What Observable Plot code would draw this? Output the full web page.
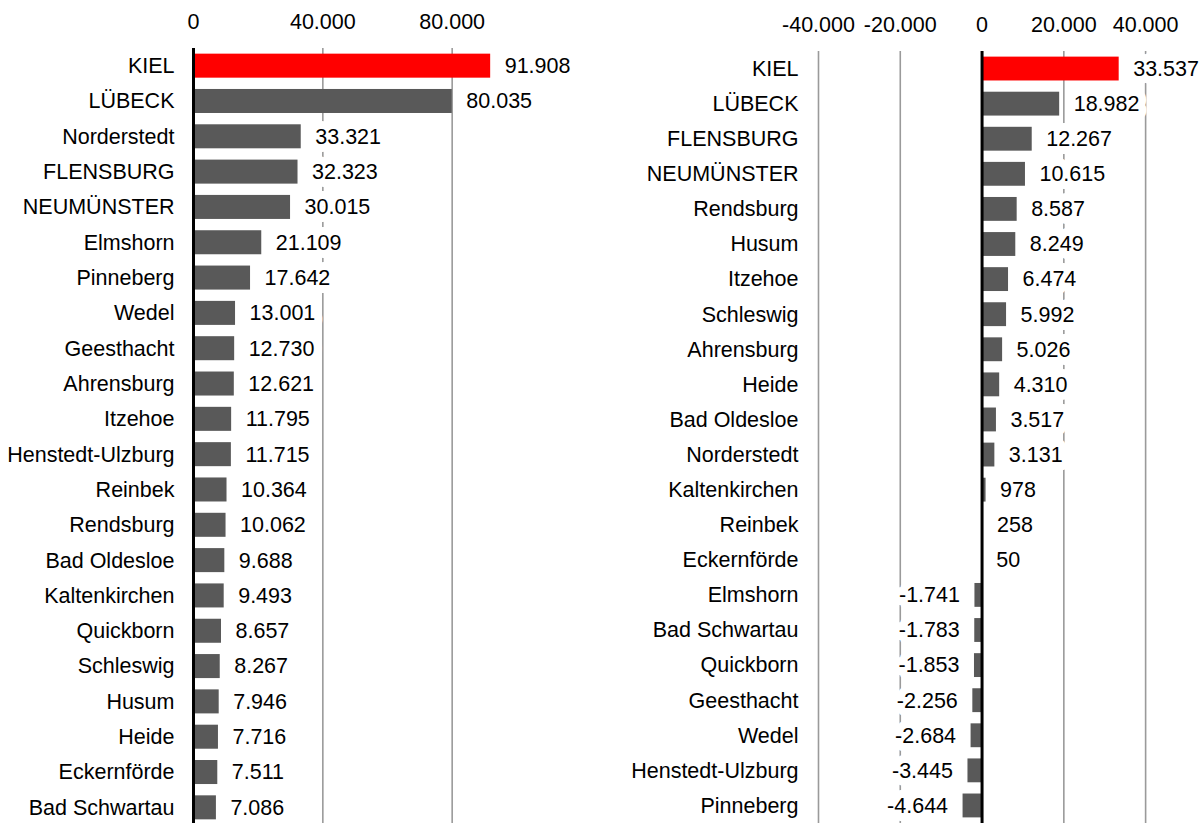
<!DOCTYPE html>
<html>
<head>
<meta charset="utf-8">
<script src="https://cdn.jsdelivr.net/npm/d3@7"></script>
<script src="https://cdn.jsdelivr.net/npm/@observablehq/plot@0.6"></script>
<style>
  html, body { margin: 0; padding: 0; background: white; overflow: hidden; }
  #wrap { display: flex; width: 1202px; height: 823px; }
  #wrap > svg { flex: none; }
</style>
</head>
<body>
<div id="wrap"></div>
<script>
// Left chart
const leftNames = ["KIEL", "LÜBECK", "Norderstedt", "FLENSBURG", "NEUMÜNSTER", "Elmshorn", "Pinneberg", "Wedel", "Geesthacht", "Ahrensburg", "Itzehoe", "Henstedt-Ulzburg", "Reinbek", "Rendsburg", "Bad Oldesloe", "Kaltenkirchen", "Quickborn", "Schleswig", "Husum", "Heide", "Eckernförde", "Bad Schwartau"];
const leftValues = [91908, 80035, 33321, 32323, 30015, 21109, 17642, 13001, 12730, 12621, 11795, 11715, 10364, 10062, 9688, 9493, 8657, 8267, 7946, 7716, 7511, 7086];
const leftTicks = [0, 40000, 80000];

// Right chart
const rightNames = ["KIEL", "LÜBECK", "FLENSBURG", "NEUMÜNSTER", "Rendsburg", "Husum", "Itzehoe", "Schleswig", "Ahrensburg", "Heide", "Bad Oldesloe", "Norderstedt", "Kaltenkirchen", "Reinbek", "Eckernförde", "Elmshorn", "Bad Schwartau", "Quickborn", "Geesthacht", "Wedel", "Henstedt-Ulzburg", "Pinneberg"];
const rightValues = [33537, 18982, 12267, 10615, 8587, 8249, 6474, 5992, 5026, 4310, 3517, 3131, 978, 258, 50, -1741, -1783, -1853, -2256, -2684, -3445, -4644];
const rightTicks = [-40000, -20000, 0, 20000, 40000];

const highlight = "KIEL";

const de = d3.formatLocale({decimal: ",", thousands: ".", grouping: [3], currency: ["", " €"], minus: "-"});
const fmt = de.format(",d");

const leftData = leftNames.map((name, i) => ({name, value: leftValues[i]}));
const rightData = rightNames.map((name, i) => ({name, value: rightValues[i]}));

const style = {fontFamily: "'Liberation Sans', Arial, sans-serif", fontSize: "21.5px", color: "black", background: "white", overflow: "visible"};

function chart(data, names, ticks, opts) {
  const pos = data.filter(d => d.value >= 0);
  const neg = data.filter(d => d.value < 0);
  return Plot.plot({
    width: 601,
    height: 823,
    marginLeft: opts.marginLeft,
    marginRight: opts.marginRight,
    marginTop: opts.marginTop,
    marginBottom: opts.marginBottom,
    style,
    x: {domain: opts.domain, label: null, axis: null},
    y: {domain: names, paddingInner: 0.32, paddingOuter: 0.16, round: false, label: null, axis: null},
    marks: [
      Plot.ruleX(ticks.filter(t => t !== 0), {stroke: "#9a9a9a", strokeWidth: 1.6}),
      Plot.barX(data.filter(d => d.name !== highlight), {x: "value", y: "name", fill: "#595959"}),
      Plot.barX(data.filter(d => d.name === highlight), {x: "value", y: "name", fill: "#ff0000"}),
      Plot.ruleX([0], {stroke: "black", strokeWidth: 3}),
      Plot.text(pos, {x: "value", y: "name", text: d => fmt(d.value), textAnchor: "start", dx: 14, fill: "black", stroke: "white", strokeWidth: 16}),
      Plot.text(neg, {x: "value", y: "name", text: d => fmt(d.value), textAnchor: "end", dx: -15, fill: "black", stroke: "white", strokeWidth: 16}),
      Plot.axisX({anchor: "top", ticks, tickSize: 0, tickPadding: opts.xPad, tickFormat: fmt, label: null}),
      Plot.axisY({tickSize: 0, tickPadding: opts.yPad, label: null})
    ]
  });
}

const wrap = document.getElementById("wrap");
wrap.append(chart(leftData, leftNames, leftTicks, {marginLeft: 193, marginRight: 20, marginTop: 48, marginBottom: -2, domain: [0, 120000], xPad: 20, yPad: 19}));
wrap.append(chart(rightData, rightNames, rightTicks, {marginLeft: 217, marginRight: 16, marginTop: 51, marginBottom: 0, domain: [-40000, 50000], xPad: 20, yPad: 20}));
</script>
</body>
</html>
